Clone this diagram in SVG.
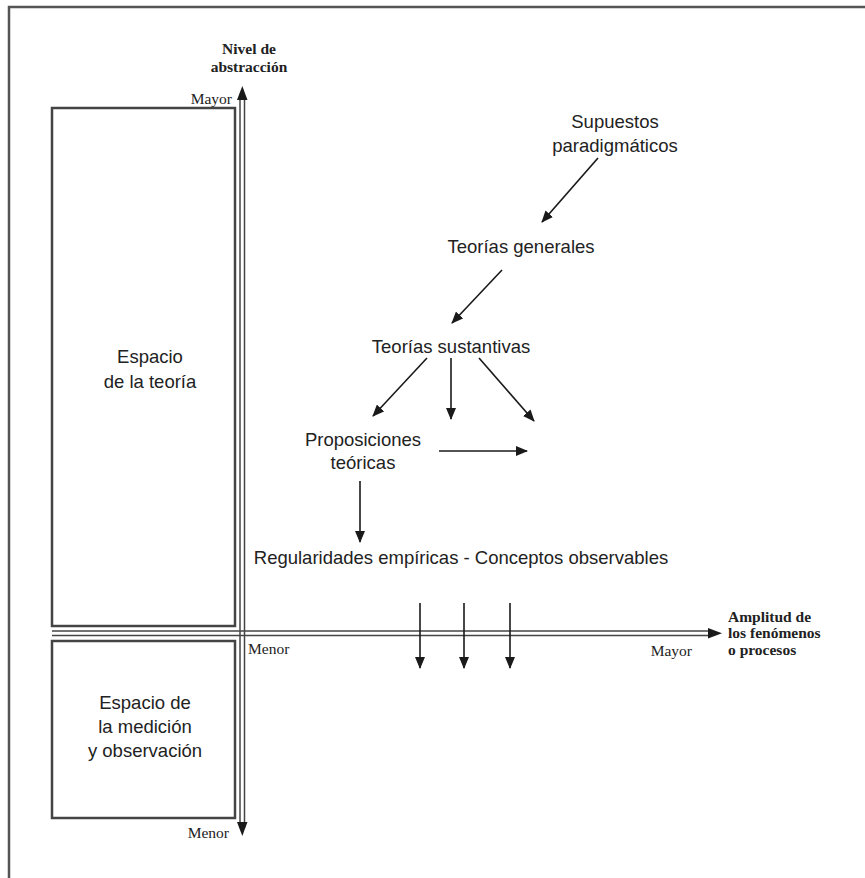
<svg xmlns="http://www.w3.org/2000/svg" width="865" height="878" viewBox="0 0 865 878">
<defs>
<marker id="ah" markerWidth="12" markerHeight="10" refX="11" refY="5" orient="auto" markerUnits="userSpaceOnUse">
<path d="M0,0 L12,5 L0,10 Z" fill="#1a1a1a"/>
</marker>
<style>
text{font-family:"Liberation Sans",Arial,sans-serif;fill:#222;}
.n{font-size:18.5px;text-anchor:middle;}
.s{font-size:15.5px;font-family:"Liberation Serif","Times New Roman",serif;}
.b{font-size:15.5px;font-weight:bold;font-family:"Liberation Serif","Times New Roman",serif;}
.frame{fill:none;stroke:#555;stroke-width:2.5;}
.box{fill:none;stroke:#444;stroke-width:2.5;}
.ax{stroke:#444;stroke-width:1.5;fill:none;}
.c{stroke:#1a1a1a;stroke-width:1.6;fill:none;marker-end:url(#ah);}
</style>
</defs>
<rect width="865" height="878" fill="#fff"/>
<path class="frame" d="M9,878 V7 H865"/>

<g id="axes">
<line class="ax" x1="240" y1="96" x2="240" y2="828"/>
<line class="ax" x1="244.5" y1="96" x2="244.5" y2="828"/>
<path d="M237,100 L242.3,86 L247.5,100 Z" fill="#1a1a1a"/>
<path d="M237,822 L242.3,836 L247.5,822 Z" fill="#1a1a1a"/>
<line class="ax" x1="52" y1="631" x2="712" y2="631"/>
<line class="ax" x1="52" y1="635.5" x2="712" y2="635.5"/>
<path d="M708,628 L722,633.3 L708,638.5 Z" fill="#1a1a1a"/>
<text class="b" x="249" y="54" text-anchor="middle">Nivel de</text>
<text class="b" x="249" y="72" text-anchor="middle">abstracción</text>
<text class="s" x="232" y="104" text-anchor="end">Mayor</text>
<text class="s" x="248" y="654">Menor</text>
<text class="s" x="229" y="838" text-anchor="end">Menor</text>
<text class="s" x="692" y="656" text-anchor="end">Mayor</text>
<text class="b" x="728" y="622">Amplitud de</text>
<text class="b" x="728" y="638">los fenómenos</text>
<text class="b" x="728" y="655">o procesos</text>
</g>

<g id="espacio-teoria">
<rect class="box" x="52" y="108" width="183" height="518"/>
<text class="n" x="150" y="363">Espacio</text>
<text class="n" x="150" y="388">de la teoría</text>
</g>

<g id="espacio-medicion">
<rect class="box" x="52" y="641" width="183" height="177"/>
<text class="n" x="145" y="709">Espacio de</text>
<text class="n" x="145" y="733">la medición</text>
<text class="n" x="145" y="757">y observación</text>
</g>

<g id="supuestos">
<text class="n" x="615" y="128">Supuestos</text>
<text class="n" x="615" y="152">paradigmáticos</text>
</g>
<g id="teorias-generales">
<text class="n" x="521" y="253">Teorías generales</text>
</g>
<g id="teorias-sustantivas">
<text class="n" x="451" y="353">Teorías sustantivas</text>
</g>
<g id="proposiciones">
<text class="n" x="363" y="446">Proposiciones</text>
<text class="n" x="363" y="469">teóricas</text>
</g>
<g id="regularidades">
<text class="n" x="461" y="564">Regularidades empíricas - Conceptos observables</text>
</g>

<g id="connectors">
<line class="c" x1="598" y1="158" x2="542" y2="222"/>
<line class="c" x1="502" y1="270" x2="452" y2="323"/>
<line class="c" x1="427" y1="358" x2="373" y2="416"/>
<line class="c" x1="451" y1="358" x2="451" y2="419"/>
<line class="c" x1="479" y1="358" x2="534" y2="421"/>
<line class="c" x1="439" y1="451" x2="527" y2="451"/>
<line class="c" x1="360" y1="481" x2="360" y2="542"/>
<line class="c" x1="420" y1="603" x2="420" y2="668"/>
<line class="c" x1="464" y1="603" x2="464" y2="668"/>
<line class="c" x1="510" y1="603" x2="510" y2="668"/>
</g>
</svg>
